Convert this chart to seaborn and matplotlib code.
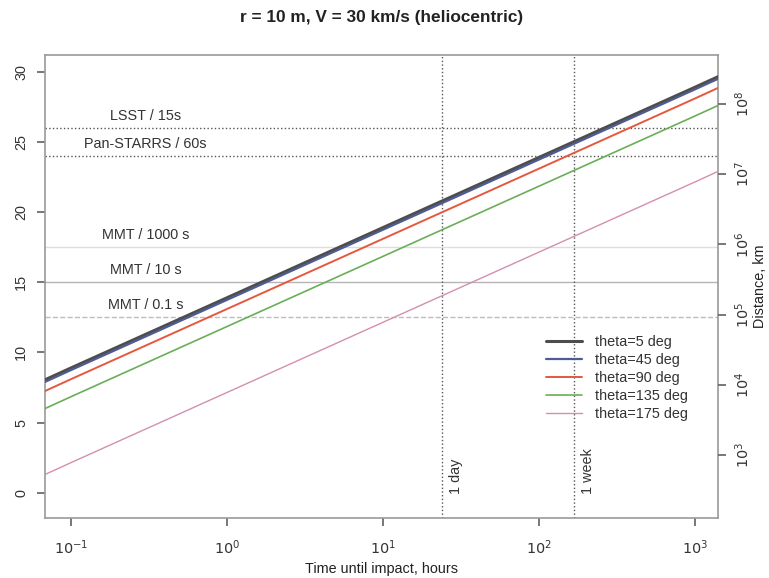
import numpy as np
import pandas as pd
import matplotlib
matplotlib.use("Agg")
import matplotlib.pyplot as plt
import seaborn as sns

# time until impact (hours) and magnitude
hours = [0.068, 0.1, 1, 10, 100, 1000, 1404]
mag_theta5 = [8.05, 8.9, 13.9, 18.9, 23.9, 28.9, 29.65]
mag_theta45 = [7.9, 8.75, 13.75, 18.75, 23.75, 28.75, 29.5]
mag_theta90 = [7.25, 8.1, 13.1, 18.1, 23.1, 28.1, 28.85]
mag_theta135 = [6.0, 6.85, 11.85, 16.85, 21.85, 26.85, 27.6]
mag_theta175 = [1.3, 2.15, 7.15, 12.15, 17.15, 22.15, 22.9]

series_names = ["theta=5 deg", "theta=45 deg", "theta=90 deg", "theta=135 deg", "theta=175 deg"]
series_colors = ["#4d4d4d", "#4f5c92", "#e5583e", "#6aae58", "#d38fb0"]
series_widths = [2.2, 1.6, 1.4, 1.2, 1.0]

# survey limiting magnitudes
limit_names = ["LSST / 15s", "Pan-STARRS / 60s", "MMT / 1000 s", "MMT / 10 s", "MMT / 0.1 s"]
limit_mags = [26, 24, 17.5, 15, 12.5]
limit_styles = [":", ":", "-", "-", "--"]
limit_colors = ["#555555", "#555555", "#dddddd", "#b5b5b5", "#bdbdbd"]

# marked times
mark_names = ["1 day", "1 week"]
mark_hours = [24, 168]

# right axis: distance (km) ticks and matching magnitude
dist_labels = ["$10^3$", "$10^4$", "$10^5$", "$10^6$", "$10^7$", "$10^8$"]
dist_mags = [2.7, 7.7, 12.7, 17.7, 22.7, 27.7]

df = pd.DataFrame({"hours": hours * 5,
                   "mag": mag_theta5 + mag_theta45 + mag_theta90 + mag_theta135 + mag_theta175,
                   "series": sum([[n] * len(hours) for n in series_names], [])})

sns.set_theme(style="ticks")
plt.rcParams['font.family'] = ['Liberation Sans', 'DejaVu Sans']

fs = 10.4
fig = plt.figure(figsize=(7.69, 5.78), dpi=100)
ax = fig.add_axes([0.0585, 0.1038, 0.875, 0.801])

for mag, style, col in zip(limit_mags, limit_styles, limit_colors):
    ax.axhline(mag, ls=style, color=col, lw=1.0, zorder=1)
for name, mag in zip(limit_names, limit_mags):
    ax.text(0.3, mag + 0.35, name, ha="center", va="bottom", fontsize=fs, color="#333333")

for name, h in zip(mark_names, mark_hours):
    ax.axvline(h, ls=":", color="#555555", lw=1.0, zorder=1)
    ax.text(h * 1.1, -0.1, name, rotation=90, ha="left", va="bottom", fontsize=fs, color="#333333")

for name, col, lw in zip(series_names, series_colors, series_widths):
    sns.lineplot(data=df[df.series == name], x="hours", y="mag", color=col, lw=lw,
                 label=name, ax=ax, zorder=3)

ax.set_xscale("log")
ax.set_xlim(0.068, 1404)
ax.set_ylim(-1.8, 31.2)
ax.set_xticks([0.1, 1, 10, 100, 1000])
ax.set_xticklabels(["$10^{-1}$", "$10^0$", "$10^1$", "$10^2$", "$10^3$"])
ax.xaxis.set_minor_locator(matplotlib.ticker.NullLocator())
ax.set_yticks([0, 5, 10, 15, 20, 25, 30])
for lab in ax.get_yticklabels():
    lab.set_rotation(90)
    lab.set_va("center")
ax.tick_params(axis="both", direction="out", length=6, color="#666666", labelsize=fs,
               labelcolor="#333333")
ax.tick_params(axis="x", pad=9)
ax.tick_params(axis="y", pad=6)
for s in ax.spines.values():
    s.set_visible(True)
    s.set_color("#999999")
    s.set_linewidth(1.2)

ax.set_xlabel("Time until impact, hours", fontsize=fs, color="#222222", labelpad=3)
ax.set_ylabel("")
ax.set_title("r = 10 m, V = 30 km/s (heliocentric)", fontsize=12.4, fontweight="bold",
             color="#222222", pad=24)

ax2 = ax.twinx()
ax2.set_ylim(ax.get_ylim())
ax2.set_yticks(dist_mags)
ax2.set_yticklabels(dist_labels, rotation=90, va="center")
ax2.tick_params(axis="y", direction="out", length=6, color="#666666", labelsize=fs,
                labelcolor="#333333", pad=5)
ax2.set_ylabel("Distance, km", fontsize=fs, color="#222222", labelpad=1)
for s in ax2.spines.values():
    s.set_visible(False)

leg = ax.legend(loc="upper left", bbox_to_anchor=(0.745, 0.395), frameon=False, fontsize=fs,
                handlelength=2.5, labelspacing=0.28, handletextpad=0.9,
                borderaxespad=0, borderpad=0)
for t in leg.get_texts():
    t.set_color("#333333")

fig.savefig("out.png", dpi=100)
